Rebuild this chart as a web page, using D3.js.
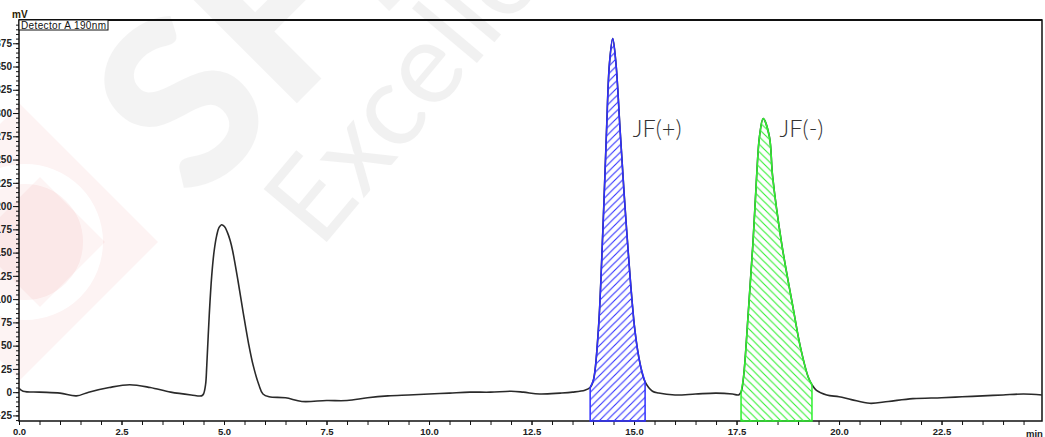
<!DOCTYPE html>
<meta charset="utf-8">
<style type="text/css">
    html, body {
        margin: 0;
        padding: 0;
        background: #fff;
        overflow: hidden;
    }
    svg {
        display: block;
    }
    .axis text {
        font-family: "Liberation Sans", Arial, sans-serif;
        font-weight: bold;
        font-size: 9.5px;
        fill: #222;
    }
    .peak-label {
        font-family: Lato, "Noto Sans", sans-serif;
        font-weight: 300;
        font-size: 23.5px;
        fill: #333;
    }
</style>
<svg id="chart"></svg>
<script src="https://cdn.jsdelivr.net/npm/d3@7/dist/d3.min.js" type="text/javascript"></script>
<script type="text/javascript">
    // retention time (min) and detector signal (mV)
    var times = [
        0.00, 0.10, 0.50, 1.00, 1.40, 1.70, 2.20, 2.70, 3.20, 3.70, 4.20, 4.45,
        4.50, 4.55, 4.58, 4.64, 4.70, 4.76, 4.82, 4.88, 4.94, 5.01, 5.08, 5.15, 5.21,
        5.34, 5.47, 5.60, 5.71, 5.85, 5.95, 6.10, 6.50, 6.90, 7.50, 8.00, 8.50,
        9.00, 9.50, 10.00, 10.50, 11.00, 11.50, 12.00, 12.30, 12.70, 13.20, 13.50, 13.80,
        13.93, 14.01, 14.13, 14.24, 14.33, 14.40, 14.48, 14.56, 14.66, 14.82, 15.02, 15.15,
        15.27, 15.45, 15.60, 16.00, 16.50, 17.00, 17.40, 17.55,
        17.61, 17.67, 17.79, 17.90, 17.99, 18.06, 18.15, 18.30, 18.38, 18.60, 18.89, 19.05,
        19.25, 19.34, 19.45, 19.70, 20.00, 20.30, 20.75, 21.20, 21.80, 22.50, 23.00, 23.50,
        24.00, 24.50, 24.95
    ];
    var signal = [
        4, 1, 0, -1, -4, 0, 5, 8, 5, 0, -3, -4,
        -2, 8, 29, 83, 125, 152, 168, 177, 180, 178, 172, 163, 152,
        120, 85, 52, 29, 8, -2, -5, -6, -10, -9, -9, -6,
        -4, -3, -2, -1, 0, 0, 1, 0, -2, -1, 0, 2,
        5, 13, 67, 174, 282, 353, 380, 353, 282, 174, 67, 30,
        11, 1, -1, -3, -2, -1, -2, -3,
        0, 16, 88, 160, 232, 275, 294, 275, 232, 160, 88, 50,
        16, 8, 2, -3, -5, -8, -12, -10, -7, -6, -5, -4,
        -3, -2, -3
    ];

    // integrated (hatched) peaks
    var peakNames = ["JF(+)", "JF(-)"];
    var peakStart = [13.93, 17.61];
    var peakEnd = [15.27, 19.34];
    var peakColors = ["#3030ff", "#30f030"];

    var xTicks = [0, 2.5, 5, 7.5, 10, 12.5, 15, 17.5, 20, 22.5];
    var yTicks = [-25, 0, 25, 50, 75, 100, 125, 150, 175, 200, 225, 250, 275, 300, 325, 350, 375];

    var width = 1045;
    var height = 437;
    var plotLeft = 19, plotRight = 1042, plotTop = 20, plotBottom = 421;

    var svg = d3.select("#chart").attr("width", width).attr("height", height);

    var x = d3.scaleLinear().domain([0, 24.95]).range([plotLeft, plotRight]);
    var y = d3.scaleLinear().domain([-31, 400]).range([plotBottom, plotTop]);

    var data = times.map((t, i) => ({ t: t, v: signal[i] }));

    // faint watermark
    var wm = svg.append("g").attr("class", "watermark");
    wm.append("path")
        .attr("d", "M158,242 L20,104 L-118,242 L20,380 Z")
        .attr("fill", "#e03030")
        .attr("opacity", 0.06);
    wm.append("circle")
        .attr("cx", 25).attr("cy", 242).attr("r", 68)
        .attr("fill", "none")
        .attr("stroke", "#fff")
        .attr("stroke-width", 20);
    wm.append("path")
        .attr("d", "M105,242 L40,177 L-25,242 L40,307 Z")
        .attr("fill", "#e03030")
        .attr("opacity", 0.05);
    wm.append("text")
        .attr("transform", "translate(195,205) rotate(-45)")
        .attr("font-family", "Lato, sans-serif")
        .attr("font-weight", 900)
        .attr("font-size", 230)
        .attr("fill", "#000")
        .attr("opacity", 0.045)
        .text("SFE");
    wm.append("text")
        .attr("transform", "translate(320,250) rotate(-50)")
        .attr("font-family", "Lato, sans-serif")
        .attr("font-weight", 400)
        .attr("font-size", 115)
        .attr("fill", "#000")
        .attr("opacity", 0.05)
        .text("Excellence");

    // hatch patterns
    var defs = svg.append("defs");
    peakColors.forEach((c, i) => {
        var p = defs.append("pattern")
            .attr("id", "hatch" + i)
            .attr("patternUnits", "userSpaceOnUse")
            .attr("width", 7.5)
            .attr("height", 7.5);
        p.append("path")
            .attr("d", i == 0
                ? "M-1,8.5 L8.5,-1 M-4.75,4.75 L4.75,-4.75 M2.75,12.25 L12.25,2.75"
                : "M-1,-1 L8.5,8.5 M-4.75,2.75 L4.75,12.25 M2.75,-4.75 L12.25,4.75")
            .attr("stroke", c)
            .attr("stroke-width", 1.1);
    });

    // axes
    var xAxis = d3.axisBottom(x)
        .tickValues(xTicks)
        .tickSize(4)
        .tickFormat(d3.format(".1f"));
    var xMinor = d3.axisBottom(x)
        .tickValues(d3.range(0, 24.9, 0.5))
        .tickSize(4)
        .tickFormat("");
    var yAxis = d3.axisLeft(y)
        .tickValues(yTicks)
        .tickSize(6)
        .tickPadding(1)
        .tickFormat(d3.format("d"));
    var yMinor = d3.axisLeft(y)
        .tickValues(d3.range(-30, 400, 5))
        .tickSize(3)
        .tickFormat("");

    svg.append("g").attr("class", "axis").attr("transform", "translate(0," + plotBottom + ")").call(xMinor);
    var gx = svg.append("g").attr("class", "axis").attr("transform", "translate(0," + plotBottom + ")").call(xAxis);
    svg.append("g").attr("class", "axis").attr("transform", "translate(" + plotLeft + ",0)").call(yMinor);
    var gy = svg.append("g").attr("class", "axis").attr("transform", "translate(" + plotLeft + ",0)").call(yAxis);
    svg.selectAll(".axis .domain").remove();
    svg.selectAll(".axis line").attr("stroke", "#111").attr("stroke-width", 1);
    gx.selectAll("text").attr("y", 7);
    gy.selectAll("text").style("font-size", "10px");

    svg.append("text")
        .attr("x", 1026).attr("y", 437)
        .attr("font-family", "Liberation Sans, Arial, sans-serif")
        .attr("font-weight", "bold")
        .attr("font-size", 9.5)
        .attr("fill", "#222")
        .text("min");
    svg.append("text")
        .attr("x", 12).attr("y", 18)
        .attr("font-family", "Liberation Sans, Arial, sans-serif")
        .attr("font-weight", "bold")
        .attr("font-size", 10)
        .attr("fill", "#2a2000")
        .text("mV");

    // frame
    svg.append("path")
        .attr("d", "M" + plotLeft + "," + plotBottom + " L" + plotLeft + "," + plotTop + " L" + plotRight + "," + plotTop + " L" + plotRight + "," + plotBottom + " Z")
        .attr("fill", "none")
        .attr("stroke", "#111")
        .attr("stroke-width", 1.5);
    svg.append("line")
        .attr("x1", plotLeft).attr("x2", plotRight)
        .attr("y1", plotTop).attr("y2", plotTop)
        .attr("stroke", "#111")
        .attr("stroke-width", 2.2);

    // chromatogram trace
    var line = d3.line()
        .x(d => x(d.t))
        .y(d => y(d.v))
        .curve(d3.curveCatmullRom.alpha(0.5));

    svg.append("path")
        .datum(data)
        .attr("fill", "none")
        .attr("stroke", "#2a2a2a")
        .attr("stroke-width", 1.6)
        .attr("d", line);

    // hatched peak areas
    var area = d3.area()
        .x(d => x(d.t))
        .y0(y(-31))
        .y1(d => y(d.v))
        .curve(d3.curveCatmullRom.alpha(0.5));

    peakNames.forEach((name, i) => {
        var seg = data.filter(d => d.t >= peakStart[i] && d.t <= peakEnd[i]);
        svg.append("path")
            .datum(seg)
            .attr("fill", "url(#hatch" + i + ")")
            .attr("stroke", peakColors[i])
            .attr("stroke-width", 1.5)
            .attr("d", area);
    });

    // peak labels
    var labelT = [14.97, 18.55];
    var labelV = [274, 274];
    peakNames.forEach((name, i) => {
        svg.append("text")
            .attr("class", "peak-label")
            .attr("x", x(labelT[i]))
            .attr("y", y(labelV[i]))
            .text(name);
    });

    // detector legend box
    svg.append("rect")
        .attr("x", plotLeft).attr("y", plotTop)
        .attr("width", 89).attr("height", 10)
        .attr("fill", "#fff")
        .attr("stroke", "#111")
        .attr("stroke-width", 1);
    svg.append("text")
        .attr("x", plotLeft + 2).attr("y", plotTop + 9)
        .attr("font-family", "Liberation Sans, Arial, sans-serif")
        .attr("font-size", 10)
        .attr("textLength", 85)
        .attr("fill", "#111")
        .text("Detector A 190nm");
</script>
